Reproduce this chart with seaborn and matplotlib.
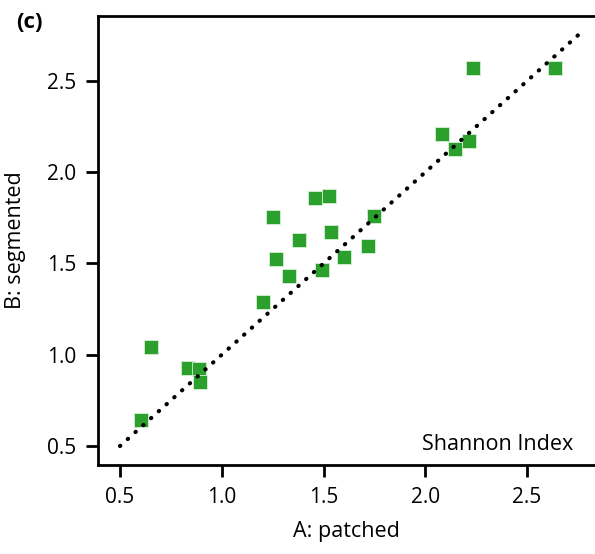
"""Panel (c): Shannon index, patched vs segmented."""

import matplotlib

matplotlib.use("Agg")
import matplotlib.pyplot as plt
import pandas as pd
import seaborn as sns

# Shannon index per site
patched = [0.652, 0.602, 0.833, 0.890, 0.893, 1.201, 1.253, 1.267, 1.330, 1.380, 1.458,
           1.527, 1.538, 1.494, 1.599, 1.717, 1.750, 2.233, 2.639, 2.084, 2.148, 2.217]
segmented = [1.043, 0.640, 0.927, 0.923, 0.853, 1.288, 1.755, 1.525, 1.434, 1.629, 1.859,
             1.872, 1.673, 1.465, 1.538, 1.596, 1.762, 2.570, 2.570, 2.208, 2.126, 2.171]

# 1:1 reference line
one_to_one = [0.5, 2.75]

x_ticks = [0.5, 1.0, 1.5, 2.0, 2.5]
y_ticks = [0.5, 1.0, 1.5, 2.0, 2.5]

GREEN = "#2ca02c"

df = pd.DataFrame({"A: patched": patched, "B: segmented": segmented})

sns.set_theme(style="ticks")
plt.rcParams["font.family"] = ["Open Sans", "DejaVu Sans"]
plt.rcParams["axes.linewidth"] = 2.0
plt.rcParams["text.color"] = "black"
plt.rcParams["axes.labelcolor"] = "black"

fig = plt.figure(figsize=(5.95, 5.54), dpi=100)
ax = fig.add_axes([98 / 595, 89 / 554, 497 / 595, 449 / 554])

ax.plot(one_to_one, one_to_one, color="black", linewidth=3.0,
        linestyle=(0, (0.1, 2.4)), dash_capstyle="round", zorder=3)
sns.scatterplot(data=df, x="A: patched", y="B: segmented", marker="s", s=90,
                color=GREEN, edgecolor="#d6f0d6", linewidth=0.6, zorder=2, ax=ax)

ax.set_xlim(0.392, 2.834)
ax.set_ylim(0.396, 2.856)
ax.set_xticks(x_ticks)
ax.set_yticks(y_ticks)
ax.set_xticklabels([f"{t:.1f}" for t in x_ticks])
ax.set_yticklabels([f"{t:.1f}" for t in y_ticks])
ax.tick_params(direction="out", length=8.5, width=2.0, labelsize=15, pad=7,
               colors="black")
ax.spines["right"].set_visible(False)
for side in ["left", "bottom", "top"]:
    ax.spines[side].set_color("black")

ax.set_xlabel("A: patched", fontsize=15.5)
ax.set_ylabel("B: segmented", fontsize=15.5)
ax.xaxis.set_label_coords(0.5, -0.125)
ax.yaxis.set_label_coords(-0.145, 0.5)

ax.text(0.956, 0.033, "Shannon Index", transform=ax.transAxes,
        ha="right", va="baseline", fontsize=15.5)
fig.text(16 / 595, 1 - 22 / 554, "(c)", ha="left", va="center",
         fontsize=16, fontweight="bold")

fig.savefig("out.png", dpi=100)
plt.close(fig)
